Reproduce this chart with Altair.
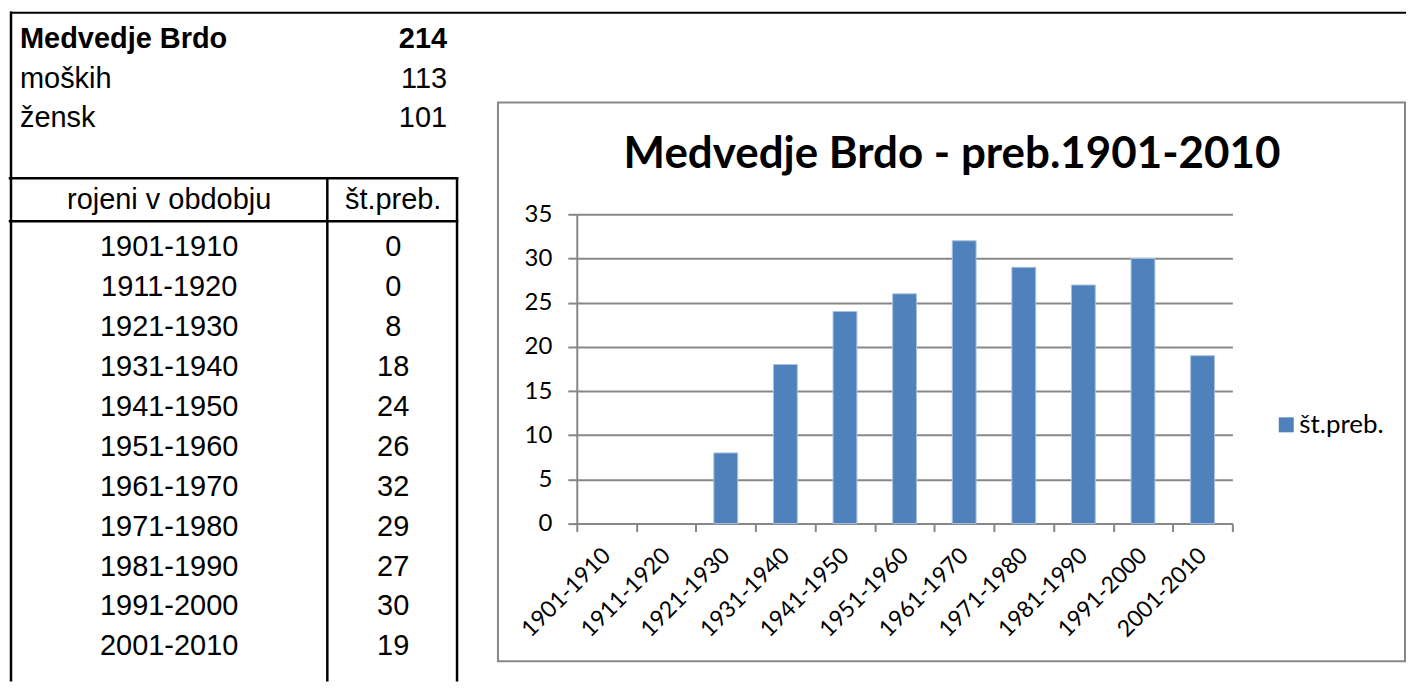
import altair as alt
import pandas as pd

# ---------------- data ----------------
place_name = "Medvedje Brdo"
place_total = 214
sex_labels = ["moških", "žensk"]
sex_values = [113, 101]
header_period = "rojeni v obdobju"
header_count = "št.preb."
periods = ["1901-1910", "1911-1920", "1921-1930", "1931-1940", "1941-1950",
           "1951-1960", "1961-1970", "1971-1980", "1981-1990", "1991-2000",
           "2001-2010"]
counts = [0, 0, 8, 18, 24, 26, 32, 29, 27, 30, 19]
series_name = "št.preb."
chart_title = "Medvedje Brdo - preb.1901-2010"
y_ticks = [0, 5, 10, 15, 20, 25, 30, 35]

# ---------------- style ----------------
BLUE = "#4F81BD"
GRID = "#878787"
INK = "#000000"
TF = "Liberation Sans"
CF = "Lato"
TFS = 29

summary = pd.DataFrame({"label": [place_name] + sex_labels,
                        "value": [place_total] + sex_values,
                        "srow": [0, 1, 2]})
table = pd.DataFrame({"period": periods, "count": counts,
                      "row": list(range(len(periods)))})
bars_df = pd.DataFrame({"period": periods, "count": counts,
                        "series": [series_name] * len(periods)})

one = alt.Data(values=[{}])


def rule(x, y, x2, y2, w=2.5, color=INK, cap="square"):
    return alt.Chart(one).mark_rule(color=color, strokeWidth=w, strokeCap=cap).encode(
        x=alt.value(x), y=alt.value(y), x2=alt.value(x2), y2=alt.value(y2))


# ---------------- left: spreadsheet table ----------------
LW, LH = 449, 673
lines = [
    rule(0, 4, 1399, 4, w=2, cap="butt"),
    rule(1, 4, 1, LH),
    rule(0, 170, 448, 170),
    rule(0, 213, 448, 213),
    rule(318, 170, 318, LH),
    rule(448, 170, 448, LH),
]

sy = alt.Y("srow:Q", scale=alt.Scale(domain=[0, 2], range=[30, 110]), axis=None)
ty = alt.Y("row:Q", scale=alt.Scale(domain=[0, 10], range=[239, 639]), axis=None)

txt = dict(font=TF, fontSize=TFS, color=INK, baseline="middle")

name_lbl = alt.Chart(summary).transform_filter("datum.srow == 0").mark_text(
    align="left", fontWeight="bold", **txt).encode(x=alt.value(10), y=sy, text="label:N")
name_val = alt.Chart(summary).transform_filter("datum.srow == 0").mark_text(
    align="right", fontWeight="bold", **txt).encode(x=alt.value(438), y=sy, text="value:Q")
sex_lbl = alt.Chart(summary).transform_filter("datum.srow > 0").mark_text(
    align="left", **txt).encode(x=alt.value(10), y=sy, text="label:N")
sex_val = alt.Chart(summary).transform_filter("datum.srow > 0").mark_text(
    align="right", **txt).encode(x=alt.value(438), y=sy, text="value:Q")

hdr1 = alt.Chart(one).mark_text(text=header_period, align="center", **txt).encode(
    x=alt.value(159.5), y=alt.value(192))
hdr2 = alt.Chart(one).mark_text(text=header_count, align="center", **txt).encode(
    x=alt.value(384), y=alt.value(192))

per_txt = alt.Chart(table).mark_text(align="center", **txt).encode(
    x=alt.value(159.5), y=ty, text="period:N")
cnt_txt = alt.Chart(table).mark_text(align="center", **txt).encode(
    x=alt.value(384), y=ty, text="count:Q")

left = alt.layer(*lines, name_lbl, name_val, sex_lbl, sex_val, hdr1, hdr2,
                 per_txt, cnt_txt).resolve_scale(y="independent").properties(
    width=LW, height=LH)

# ---------------- right: bar chart ----------------
PW, PH = 657, 310

spacer = alt.Chart(one).mark_point(opacity=0, size=1).encode(
    x=alt.value(100), y=alt.value(100)).properties(width=PW, height=206)

frame = alt.Chart(one).mark_rect(fillOpacity=0, stroke=GRID, strokeWidth=2).encode(
    x=alt.value(-79), x2=alt.value(830), y=alt.value(-112), y2=alt.value(448))

title = alt.Chart(one).mark_text(
    text=chart_title, font=CF, fontSize=44, fontWeight="bold", color=INK,
    align="center", baseline="alphabetic").encode(
    x=alt.value(376), y=alt.value(-46))

bars = alt.Chart(bars_df).mark_bar(
    width={"band": 0.4}, stroke="#A9C1E0", strokeWidth=1).encode(
    x=alt.X("period:N", sort=periods,
            scale=alt.Scale(paddingInner=0, paddingOuter=0),
            axis=alt.Axis(title=None, labelAngle=-45, tickBand="extent",
                          tickSize=8, tickColor=GRID, tickWidth=2,
                          domainColor=GRID, domainWidth=2, grid=False,
                          labelFont=CF, labelFontSize=23, labelColor=INK,
                          labelAlign="right", labelBaseline="middle",
                          labelPadding=20)),
    y=alt.Y("count:Q", scale=alt.Scale(domain=[0, 35], nice=False),
            axis=alt.Axis(title=None, values=y_ticks, grid=True,
                          gridColor=GRID, gridWidth=2, domainColor=GRID,
                          domainWidth=2, tickColor=GRID, tickWidth=2,
                          tickSize=9, labelFont=CF, labelFontSize=24,
                          labelColor=INK, labelPadding=16)),
    strokeOpacity=alt.condition("datum.count > 0", alt.value(1), alt.value(0)),
    color=alt.Color("series:N", scale=alt.Scale(range=[BLUE]),
                    legend=alt.Legend(title=None, orient="none", legendX=698,
                                      legendY=198, symbolType="square",
                                      symbolSize=225, symbolStrokeWidth=0,
                                      labelFont=CF, labelFontSize=26,
                                      labelColor=INK, labelOffset=0,
                                      padding=0)),
)

right_chart = alt.layer(frame, title, bars).properties(width=PW, height=PH)

right = alt.vconcat(spacer, right_chart, spacing=0, bounds="flush").resolve_legend(
    color="independent").resolve_scale(color="independent")

chart = alt.hconcat(left, right, spacing=119, bounds="flush").resolve_legend(
    color="independent").resolve_scale(color="independent").configure_view(
    stroke=None).properties(padding=0)

chart.save("out.html", embed_options={"renderer": "svg", "actions": False})
